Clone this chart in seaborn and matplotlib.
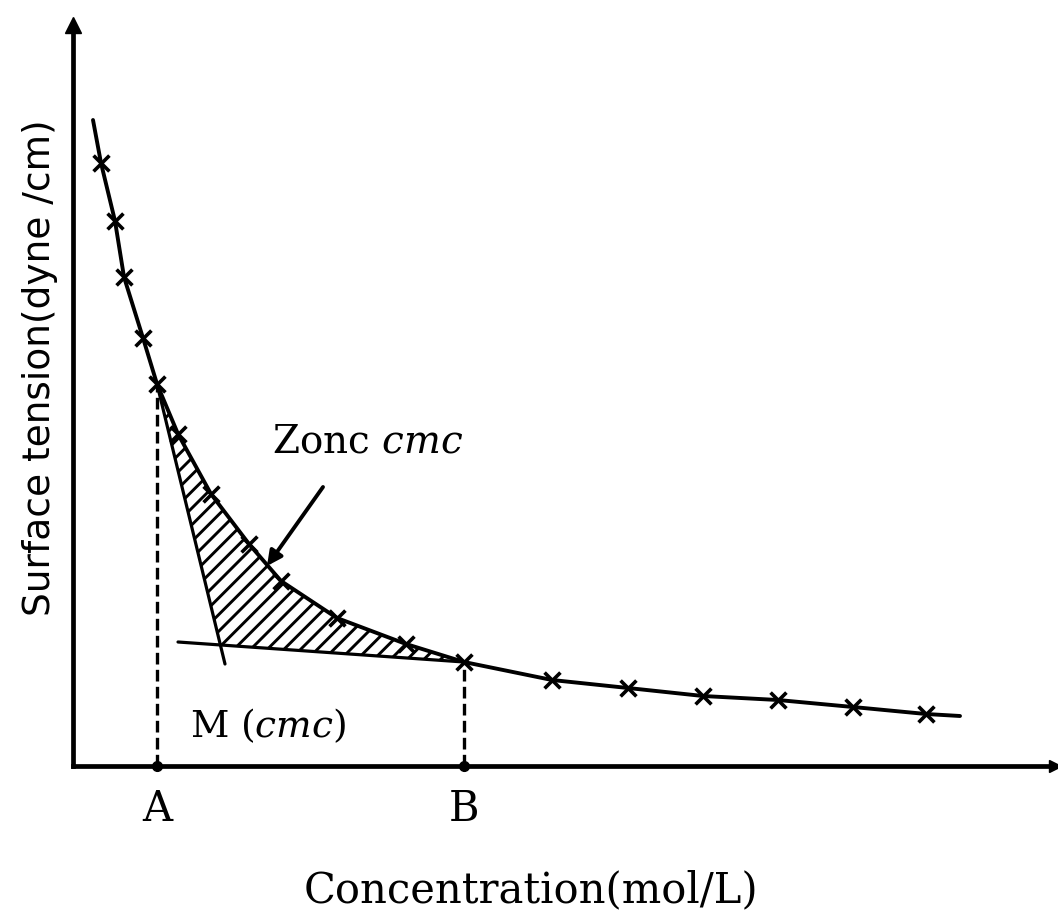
import matplotlib
matplotlib.use("Agg")
import matplotlib.pyplot as plt
import pandas as pd
import seaborn as sns

# surface tension curve (arbitrary units)
conc_marked = [28, 42, 51, 70, 84, 105, 138, 176, 208, 264, 333, 391,
               479, 555, 630, 705, 780, 853]
tension_marked = [603, 545, 489, 428, 382, 332, 272, 222, 185, 148, 122, 104,
                  86, 78, 70, 66, 59, 52]
conc_ends = [20, 887]
tension_ends = [646, 50]

# tangent lines and the points A, B, M
steep_conc = [84, 152]
steep_tension = [382, 102]
flat_conc = [105, 391]
flat_tension = [124, 104]
idx_a, idx_b = 4, 11
m_conc, m_tension = 147, 121

# arrow pointing at the zone
arrow_from = (250, 279)
arrow_to = (194, 200)

sns.set_style("white")
plt.rcParams["font.family"] = ["DejaVu Serif"]
plt.rcParams["mathtext.fontset"] = "dejavuserif"
plt.rcParams["text.color"] = "black"
plt.rcParams["axes.labelcolor"] = "black"
plt.rcParams["xtick.color"] = "black"
plt.rcParams["hatch.linewidth"] = 2.1

fig = plt.figure(figsize=(10.58, 9.13), dpi=100)
ax = fig.add_axes([73 / 1058, 147 / 913, 982 / 1058, 741 / 913])

curve = pd.DataFrame({
    "conc": [conc_ends[0]] + conc_marked + [conc_ends[1]],
    "tension": [tension_ends[0]] + tension_marked + [tension_ends[1]],
})
marks = pd.DataFrame({"conc": conc_marked, "tension": tension_marked})

sns.lineplot(data=curve, x="conc", y="tension", sort=False, estimator=None,
             color="black", lw=2.8, ax=ax)
sns.scatterplot(data=marks, x="conc", y="tension", marker="x", s=130,
                color="black", linewidth=2.6, ax=ax, zorder=3)

# tangents
ax.plot(steep_conc, steep_tension, color="black", lw=2.3)
ax.plot(flat_conc, flat_tension, color="black", lw=2.3)

# hatched zone between the curve and the tangents
zone_x = conc_marked[idx_a:idx_b + 1] + [m_conc]
zone_y = tension_marked[idx_a:idx_b + 1] + [m_tension]
ax.fill(zone_x, zone_y, facecolor="none", edgecolor="black", hatch="//",
        linewidth=0)

# dashed drops to the axis
for i in (idx_a, idx_b):
    ax.plot([conc_marked[i], conc_marked[i]], [0, tension_marked[i]],
            color="black", lw=2.4, ls=(0, (3.5, 1.6)))
    ax.plot(conc_marked[i], 0, "o", color="black", ms=7, clip_on=False)

ax.annotate("", xy=arrow_to, xytext=arrow_from,
            arrowprops=dict(arrowstyle="-|>", color="black", lw=2.8,
                            mutation_scale=22, shrinkA=0, shrinkB=0))
ax.text(199, 314, r"Zonc $\mathit{cmc}$", fontsize=28, va="baseline")
ax.text(117, 29, r"M ($\mathit{cmc}$)", fontsize=27, va="baseline")

ax.set_xlim(0, 982)
ax.set_ylim(0, 741)
ax.set_xticks([conc_marked[idx_a], conc_marked[idx_b]], ["A", "B"],
              fontsize=30)
ax.set_yticks([])
ax.tick_params(axis="x", length=0, pad=16)

for side in ("top", "right"):
    ax.spines[side].set_visible(False)
for side in ("left", "bottom"):
    ax.spines[side].set_linewidth(3.4)
    ax.spines[side].set_color("black")

ax.plot(0, 1, marker="^", ms=11, color="black", transform=ax.transAxes,
        clip_on=False)
ax.plot(1, 0, marker=">", ms=9, color="black", transform=ax.transAxes,
        clip_on=False)

ax.set_xlabel("Concentration(mol/L)", fontsize=30)
ax.xaxis.set_label_coords(0.466, -0.1835)
ax.xaxis.label.set_va("baseline")
ax.set_ylabel("Surface tension(dyne /cm)", fontsize=27,
              family=["DejaVu Sans"])
ax.yaxis.set_label_coords(-0.034, 0.537)
ax.yaxis.label.set_va("center")

fig.savefig("out.png", dpi=100)
